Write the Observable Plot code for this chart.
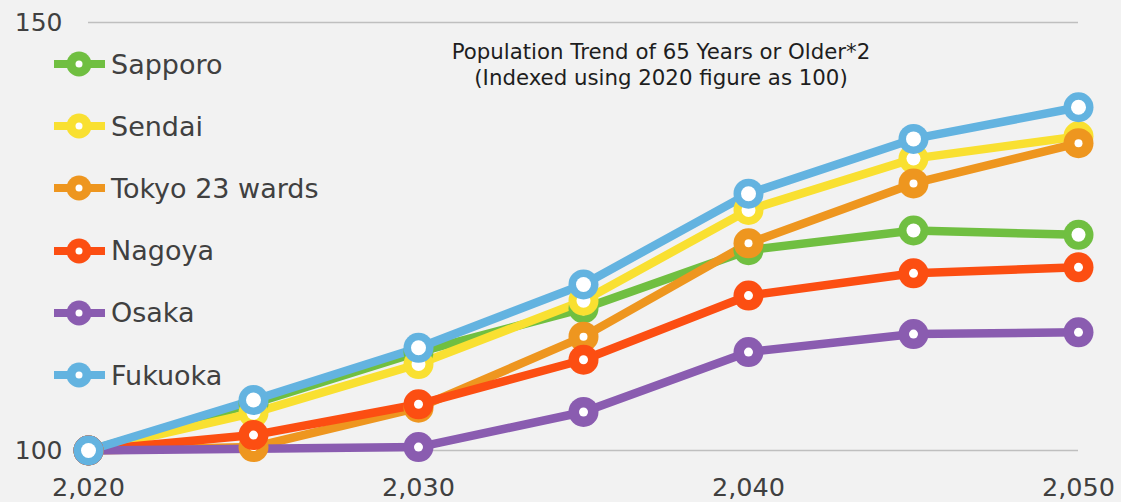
<!DOCTYPE html>
<html>
<head>
<meta charset="utf-8">
<script src="https://cdn.jsdelivr.net/npm/d3@7"></script>
<script src="https://cdn.jsdelivr.net/npm/@observablehq/plot@0.6"></script>
<style>
  html, body { margin: 0; padding: 0; background: #F2F2F2; }
  #wrap { position: relative; width: 1121px; height: 502px; overflow: hidden; font-family: "DejaVu Sans", Verdana, sans-serif; }
  #title { position: absolute; left: 400px; width: 522px; top: 39px; text-align: center; font-size: 21.3px; line-height: 26px; color: #1e1e1e; }
  #legend { position: absolute; left: 54px; top: 33px; }
  .row { display: flex; align-items: center; height: 62.2px; }
  .row span { margin-left: 6px; font-size: 27px; color: #404040; }
</style>
</head>
<body>
<div id="wrap">
  <div id="chart"></div>
  <div id="title"></div>
  <div id="legend"></div>
</div>
<script>
const years = [2020, 2025, 2030, 2035, 2040, 2045, 2050];
const cities = ["Sapporo", "Sendai", "Tokyo 23 wards", "Nagoya", "Osaka", "Fukuoka"];
const sapporo = [100, 105.5, 111.5, 116.6, 123.4, 125.7, 125.2];
const sendai  = [100, 104.4, 110.1, 117.5, 128.1, 134.1, 136.7];
const tokyo   = [100, 100.4, 105.0, 113.3, 124.2, 131.2, 135.9];
const nagoya  = [100, 101.8, 105.4, 110.6, 118.1, 120.7, 121.4];
const osaka   = [100, null, 100.4, 104.5, 111.5, 113.6, 113.8];
const fukuoka = [100, 105.9, 112.0, 119.4, 130.0, 136.4, 140.1];
const colors = ["#70BF41", "#F9E031", "#EE961F", "#FC4E12", "#8A5CB0", "#63B3E0"];
const innerR = [7, 7, 4, 4.5, 4.5, 7.5];
const xTicks = [2020, 2030, 2040, 2050];
const yTicks = [100, 150];
const titleLines = ["Population Trend of 65 Years or Older*2", "(Indexed using 2020 figure as 100)"];

const seriesValues = [sapporo, sendai, tokyo, nagoya, osaka, fukuoka];
const series = cities.map((c, i) =>
  years.map((y, j) => ({year: y, city: c, value: seriesValues[i][j]})).filter(d => d.value != null)
);

const marks = [
  Plot.gridY(yTicks, {stroke: "#BFBFBF", strokeOpacity: 1, strokeWidth: 1.5}),
  Plot.axisY(yTicks, {tickSize: 0, tickPadding: 26, fontSize: 25, label: null}),
  Plot.axisX(xTicks, {tickSize: 0, tickPadding: 27, fontSize: 25.5, label: null, tickFormat: d3.format(",")})
];
series.forEach((s, i) => {
  marks.push(Plot.line(s, {x: "year", y: "value", stroke: colors[i], strokeWidth: 8.5, strokeLinejoin: "round"}));
});
series.forEach((s, i) => {
  marks.push(Plot.dot(s, {x: "year", y: "value", r: 15, fill: colors[i], stroke: "none"}));
  marks.push(Plot.dot(s, {x: "year", y: "value", r: innerR[i], fill: "white", stroke: "none"}));
});

const chart = Plot.plot({
  width: 1121,
  height: 502,
  marginLeft: 88,
  marginRight: 43,
  marginTop: 22,
  marginBottom: 52,
  x: {domain: [2020, 2050]},
  y: {domain: [100, 150]},
  style: {background: "#F2F2F2", color: "#404040", fontFamily: "DejaVu Sans, Verdana, sans-serif", fontSize: "25px", overflow: "visible"},
  marks
});
document.getElementById("chart").appendChild(chart);

document.getElementById("title").innerHTML = titleLines.map(t => `<div>${t}</div>`).join("");

const legend = document.getElementById("legend");
cities.forEach((c, i) => {
  const row = document.createElement("div");
  row.className = "row";
  row.innerHTML = `<svg width="51" height="28" viewBox="0 0 51 28">
      <line x1="0" x2="51" y1="14" y2="14" stroke="${colors[i]}" stroke-width="8"/>
      <circle cx="25" cy="14" r="12.5" fill="${colors[i]}"/>
      <circle cx="25" cy="14" r="3.5" fill="white"/>
    </svg><span>${c}</span>`;
  legend.appendChild(row);
});
</script>
</body>
</html>
